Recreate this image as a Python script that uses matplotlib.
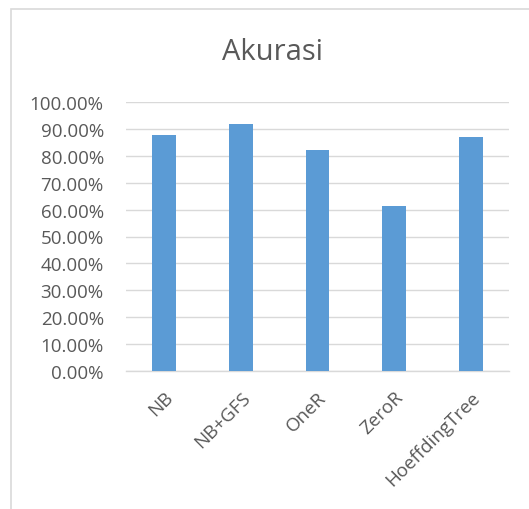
import matplotlib.pyplot as plt
from matplotlib.patches import Rectangle
from matplotlib.ticker import FuncFormatter

categories = ['NB', 'NB+GFS', 'OneR', 'ZeroR', 'HoeffdingTree']
accuracy = [0.877, 0.918, 0.823, 0.614, 0.870]
yticks = [i / 10 for i in range(11)]

plt.rcParams['font.family'] = ['Open Sans', 'DejaVu Sans']

fig = plt.figure(figsize=(5.29, 5.10), dpi=100)
ax = fig.add_axes([126 / 529, 1 - 372 / 510, 383 / 529, 269 / 510])

# chart border (cropped at right and bottom)
fig.patches.append(Rectangle((11 / 529, -0.1), 1.2, 1 - 10 / 510 + 0.1,
                             transform=fig.transFigure, fill=False,
                             edgecolor='#d9d9d9', linewidth=1.2))

x = range(len(categories))
ax.bar(x, accuracy, width=0.31, color='#5b9bd5', zorder=3)

ax.set_xlim(-0.5, len(categories) - 0.5)
ax.set_ylim(0, 1)
ax.set_yticks(yticks)
ax.yaxis.set_major_formatter(FuncFormatter(lambda v, p: f'{v * 100:.2f}%'))
ax.grid(axis='y', color='#d9d9d9', linewidth=1, zorder=0)
for s in ['top', 'right', 'left']:
    ax.spines[s].set_visible(False)
ax.spines['bottom'].set_color('#d9d9d9')
ax.spines['bottom'].set_linewidth(1)

ax.tick_params(axis='y', length=0, pad=16, labelsize=13.5, labelcolor='#595959')
ax.tick_params(axis='x', length=0, pad=12, labelsize=13.5, labelcolor='#595959')
ax.set_xticks(list(x))
ax.set_xticklabels(categories, rotation=45, ha='right', rotation_mode='anchor')

fig.text(272 / 529, 1 - 52 / 510, 'Akurasi', ha='center', va='center',
         fontsize=21, color='#595959')

fig.savefig('out.png', dpi=100)
